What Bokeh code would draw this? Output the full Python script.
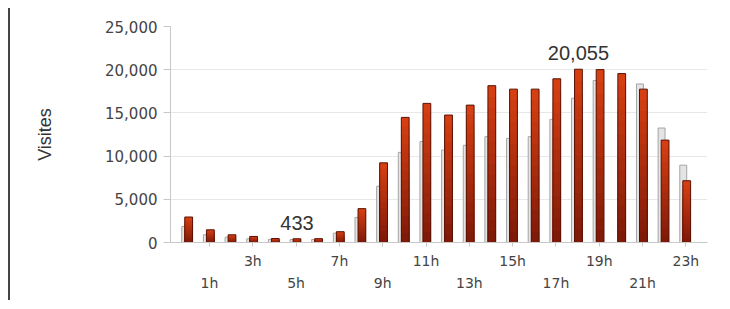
from bokeh.plotting import figure
from bokeh.models import (Range1d, FixedTicker, LinearAxis, NumeralTickFormatter,
                          Label, ColumnDataSource)
from bokeh.transform import dodge
from bokeh.embed import file_html
from bokeh.resources import INLINE

# ---- data ----
hours = list(range(24))
hour_labels = [f"{h}h" for h in hours]
current = [2950, 1470, 890, 700, 460, 433, 445, 1250, 3920, 9220, 14480, 16100,
           14750, 15900, 18150, 17750, 17750, 18950, 20055, 20010, 19550, 17750,
           11850, 7150]
previous = [1850, 900, 620, 430, 360, 340, 350, 1080, 2900, 6520, 10430, 11680,
            10700, 11250, 12250, 12050, 12250, 14250, 16700, 18750, float("nan"),
            18350, 13250, 8950]
row1_hours = [3, 7, 11, 15, 19, 23]
row2_hours = [1, 5, 9, 13, 17, 21]
y_ticks = [0, 5000, 10000, 15000, 20000, 25000]

FONT = "Liberation Sans"
TICK_FONT = "DejaVu Sans"
RED_OFF = 0.04
GRAY_OFF = -0.12
RED_W = 0.36
GRAY_W = 0.32

p = figure(width=706, height=292,
           x_range=Range1d(-0.8, 24.0), y_range=Range1d(0, 25000),
           output_backend="svg", toolbar_location=None,
           min_border_left=160, min_border_right=9,
           min_border_top=18, min_border_bottom=58)
p.styles = {"margin-left": "8px", "margin-top": "8px",
            "border-left": "2px solid #444"}
p.outline_line_color = None
p.background_fill_color = "#ffffff"

# previous period (grey)
src_prev = ColumnDataSource(dict(hour=hours, value=previous))
p.vbar(x=dodge("hour", GRAY_OFF, range=p.x_range), top="value", width=GRAY_W,
       source=src_prev, fill_color="#e4e4e4", line_color="#a5a5a5", line_width=1)

# current period (red, vertical gradient made of overlapping bars)
def lerp(c1, c2, t):
    return "#%02x%02x%02x" % tuple(int(round(a + (b - a) * t)) for a, b in zip(c1, c2))

top_c = (216, 64, 18)
bot_c = (125, 25, 8)
n_seg = 14
for k in range(n_seg, 0, -1):
    frac = k / n_seg
    seg = ColumnDataSource(dict(hour=hours, top=[v * frac for v in current]))
    col = lerp(bot_c, top_c, (k - 0.5) / n_seg)
    p.vbar(x=dodge("hour", RED_OFF, range=p.x_range), top="top",
           width=RED_W, source=seg, fill_color=col, line_color=None)
src_cur = ColumnDataSource(dict(hour=hours, value=current))
p.vbar(x=dodge("hour", RED_OFF, range=p.x_range), top="value", width=RED_W,
       source=src_cur, fill_alpha=0, line_color="#5a1206", line_width=1)

# y axis
ya = p.yaxis[0]
ya.ticker = FixedTicker(ticks=y_ticks)
ya.formatter = NumeralTickFormatter(format="0,0")
ya.major_tick_out = 7
ya.major_tick_in = 0
ya.minor_tick_line_color = None
ya.axis_line_color = "#c8c8c8"
ya.major_tick_line_color = "#c8c8c8"
ya.major_label_text_font = TICK_FONT
ya.major_label_text_font_size = "15px"
ya.major_label_text_color = "#444444"
ya.major_label_standoff = 6
ya.axis_label = "Visites"
ya.axis_label_text_font = FONT
ya.axis_label_text_font_size = "18px"
ya.axis_label_text_font_style = "normal"
ya.axis_label_text_color = "#333333"
ya.axis_label_standoff = 47

p.ygrid.ticker = FixedTicker(ticks=y_ticks)
p.ygrid.grid_line_color = "#e8e8e8"
p.xgrid.visible = False

# x axis, row 1
xa = p.xaxis[0]
xa.ticker = FixedTicker(ticks=sorted(row1_hours + row2_hours))
xa.major_label_overrides = {h: (hour_labels[h] if h in row1_hours else "")
                            for h in row1_hours + row2_hours}
xa.major_tick_out = 4
xa.major_tick_in = 0
xa.minor_tick_line_color = None
xa.axis_line_color = "#c8c8c8"
xa.major_tick_line_color = "#c8c8c8"
xa.major_label_text_font = TICK_FONT
xa.major_label_text_font_size = "14px"
xa.major_label_text_color = "#444444"
xa.major_label_standoff = 6

# x axis, row 2
xb = LinearAxis(ticker=FixedTicker(ticks=row2_hours),
                major_label_overrides={h: hour_labels[h] for h in row2_hours})
xb.axis_line_color = None
xb.major_tick_line_color = None
xb.minor_tick_line_color = None
xb.major_tick_out = 0
xb.major_tick_in = 0
xb.major_label_text_font = TICK_FONT
xb.major_label_text_font_size = "14px"
xb.major_label_text_color = "#444444"
xb.major_label_standoff = 3
p.add_layout(xb, "below")

# annotations: max and min of current series
imax = max(range(24), key=lambda i: current[i])
imin = min(range(24), key=lambda i: current[i])
for i, txt in ((imax, f"{current[imax]:,}"), (imin, f"{current[imin]:,}")):
    p.add_layout(Label(x=hours[i] + RED_OFF, y=current[i], text=txt,
                       text_align="center", text_baseline="middle", y_offset=16,
                       text_font=FONT, text_font_size="20px", text_color="#333333"))

open("out.html", "w").write(file_html(p, INLINE))
